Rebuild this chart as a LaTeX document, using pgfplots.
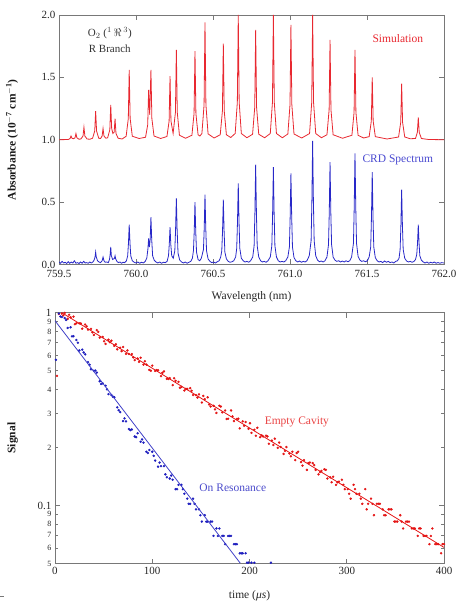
\documentclass[border=0pt]{standalone}
\usepackage{pgfplots}
\pgfplotsset{compat=1.18}
\usepackage{fontspec}
\setmainfont{Liberation Serif}

\definecolor{simred}{RGB}{232,40,48}
\definecolor{crdblue}{RGB}{40,40,200}
\definecolor{framegray}{RGB}{120,120,120}
\definecolor{ecred}{RGB}{228,20,20}
\definecolor{orblue}{RGB}{30,30,190}

\begin{document}
\begin{tikzpicture}
\useasboundingbox (0,0) rectangle (459pt,604pt);
\pgfplotsset{
  every axis/.append style={
    scale only axis,
    axis line style={framegray, line width=0.7pt},
    every tick/.style={framegray, line width=0.6pt},
    major tick length=5pt,
    tick align=inside,
    tick label style={font=\fontsize{11}{13}\selectfont, text=black!85},
    /pgf/number format/assume math mode=true,
    xlabel style={font=\fontsize{11.5}{13}\selectfont, text=black!85},
    ylabel style={font=\fontsize{11.5}{13}\selectfont\bfseries, text=black!90},
  },
}

% ---------------- O2 A-band R branch: simulation vs CRD spectrum ----------------
\begin{axis}[
  at={(59pt,339.5pt)}, anchor=south west,
  width=385pt, height=249.5pt,
  xmin=759.5, xmax=762, ymin=0, ymax=2,
  xtick={759.5,760,760.5,761,761.5,762},
  ytick={0,0.5,1,1.5,2},
  xticklabel style={yshift=-2.5pt, /pgf/number format/.cd, fixed, fixed zerofill, precision=1},
  yticklabel style={/pgf/number format/.cd, fixed, fixed zerofill, precision=1},
  xlabel={Wavelength (nm)},
  ylabel={Absorbance (10\textsuperscript{$-$7} cm\textsuperscript{$-$1})},
  xlabel style={at={(axis description cs:0.5,-0.13)}, anchor=center},
  ylabel style={at={(axis description cs:-0.122,0.5)}, anchor=center},
]
% simulated spectrum, offset by 1.0
\addplot[simred, line width=0.8pt] coordinates {
(759.500,1.000)(759.560,1.002)(759.572,1.010)(759.578,1.030)(759.584,1.012)
(759.595,1.008)(759.604,1.016)(759.610,1.050)(759.616,1.016)(759.630,1.004)
(759.642,1.006)(759.656,1.030)(759.662,1.100)(759.668,1.030)(759.682,1.006)
(759.700,1.004)(759.718,1.012)(759.732,1.070)(759.738,1.230)(759.744,1.070)
(759.758,1.012)(759.770,1.010)(759.780,1.030)(759.786,1.090)(759.792,1.030)
(759.804,1.012)(759.816,1.016)(759.830,1.080)(759.836,1.280)(759.842,1.090)
(759.850,1.050)(759.858,1.060)(759.864,1.170)(759.870,1.050)(759.884,1.012)
(759.910,1.006)(759.936,1.028)(759.950,1.170)(759.956,1.560)(759.962,1.170)
(759.976,1.028)(760.020,1.010)(760.062,1.020)(760.076,1.120)(760.082,1.400)
(760.089,1.200)(760.097,1.560)(760.103,1.170)(760.117,1.030)(760.160,1.010)
(760.201,1.026)(760.215,1.150)(760.221,1.510)(760.227,1.150)(760.241,1.050)
(760.256,1.220)(760.262,1.720)(760.268,1.220)(760.282,1.036)(760.322,1.012)
(760.363,1.036)(760.377,1.210)(760.383,1.710)(760.389,1.210)(760.403,1.040)
(760.415,1.030)(760.428,1.050)(760.442,1.280)(760.448,1.940)(760.454,1.280)
(760.468,1.047)(760.507,1.014)(760.547,1.040)(760.561,1.230)(760.567,1.770)
(760.573,1.230)(760.587,1.040)(760.615,1.018)(760.644,1.050)(760.658,1.300)
(760.664,2.000)(760.670,1.300)(760.684,1.050)(760.720,1.016)(760.757,1.044)
(760.771,1.260)(760.777,1.880)(760.783,1.260)(760.797,1.044)(760.835,1.016)
(760.872,1.050)(760.886,1.300)(760.892,2.000)(760.898,1.300)(760.912,1.050)
(760.950,1.016)(760.986,1.046)(761.000,1.280)(761.006,1.920)(761.012,1.280)
(761.026,1.046)(761.076,1.014)(761.127,1.050)(761.141,1.300)(761.147,2.000)
(761.153,1.300)(761.167,1.050)(761.204,1.016)(761.240,1.040)(761.254,1.240)
(761.260,1.800)(761.266,1.240)(761.280,1.040)(761.341,1.012)(761.402,1.036)
(761.416,1.220)(761.422,1.720)(761.428,1.220)(761.442,1.036)(761.478,1.014)
(761.514,1.025)(761.528,1.150)(761.534,1.500)(761.540,1.150)(761.554,1.025)
(761.630,1.006)(761.705,1.022)(761.719,1.140)(761.725,1.450)(761.731,1.140)
(761.745,1.022)(761.780,1.008)(761.815,1.010)(761.827,1.060)(761.833,1.180)
(761.839,1.060)(761.853,1.010)(761.900,1.002)(762.000,1.000)
};
% measured cavity ring-down spectrum
\addplot[crdblue, line width=0.8pt] coordinates {
(759.50,0.020)(759.51,0.010)(759.52,0.025)(759.53,0.012)(759.54,0.018)
(759.55,0.008)(759.56,0.022)(759.57,0.010)(759.58,0.020)(759.59,0.012)
(759.60,0.030)(759.61,0.010)(759.62,0.015)(759.63,0.008)(759.64,0.020)
(759.65,0.010)(759.66,0.025)(759.67,0.012)(759.68,0.015)(759.69,0.010)
(759.70,0.020)(759.71,0.012)(759.72,0.020)
(759.728,0.035)(759.734,0.060)(759.738,0.100)(759.742,0.060)(759.750,0.030)
(759.760,0.020)(759.770,0.015)(759.780,0.030)(759.786,0.060)(759.792,0.030)
(759.800,0.018)(759.810,0.020)(759.820,0.015)(759.828,0.040)(759.832,0.080)
(759.836,0.140)(759.840,0.070)(759.848,0.040)(759.856,0.045)(759.860,0.050)
(759.864,0.070)(759.868,0.045)(759.876,0.025)(759.886,0.015)(759.896,0.020)
(759.906,0.010)(759.916,0.018)(759.926,0.015)(759.938,0.030)
(759.946,0.070)(759.951,0.170)(759.956,0.320)(759.961,0.170)(759.966,0.070)
(759.976,0.030)(759.988,0.018)(760.000,0.012)(760.012,0.020)(760.024,0.010)
(760.036,0.018)(760.048,0.012)(760.060,0.025)(760.070,0.050)
(760.077,0.120)(760.082,0.210)(760.087,0.140)(760.092,0.200)(760.097,0.380)
(760.102,0.200)(760.108,0.070)(760.118,0.035)(760.130,0.020)(760.142,0.012)
(760.154,0.020)(760.166,0.010)(760.178,0.018)(760.190,0.015)(760.202,0.025)
(760.211,0.070)(760.216,0.160)(760.221,0.300)(760.226,0.160)(760.232,0.070)
(760.242,0.050)(760.252,0.110)(760.257,0.280)(760.262,0.530)(760.267,0.280)
(760.273,0.090)(760.284,0.035)(760.296,0.020)(760.308,0.012)(760.320,0.020)
(760.332,0.010)(760.344,0.018)(760.356,0.025)(760.366,0.050)
(760.373,0.110)(760.378,0.260)(760.383,0.500)(760.388,0.260)(760.393,0.100)
(760.403,0.040)(760.414,0.030)(760.424,0.050)(760.438,0.120)(760.443,0.290)
(760.448,0.560)(760.453,0.290)(760.458,0.110)(760.468,0.045)(760.480,0.025)
(760.492,0.015)(760.504,0.020)(760.516,0.012)(760.528,0.022)(760.540,0.030)
(760.550,0.060)(760.557,0.110)(760.562,0.270)(760.567,0.520)(760.572,0.270)
(760.577,0.100)(760.587,0.045)(760.599,0.025)(760.611,0.018)(760.623,0.022)
(760.635,0.030)(760.647,0.060)(760.654,0.130)(760.659,0.340)(760.664,0.650)
(760.669,0.340)(760.674,0.130)(760.684,0.050)(760.696,0.030)(760.708,0.020)
(760.720,0.025)(760.732,0.018)(760.744,0.030)(760.758,0.060)(760.767,0.150)
(760.772,0.410)(760.777,0.800)(760.782,0.410)(760.787,0.150)(760.797,0.060)
(760.809,0.030)(760.821,0.020)(760.833,0.025)(760.845,0.018)(760.857,0.030)
(760.872,0.060)(760.882,0.150)(760.887,0.400)(760.892,0.780)(760.897,0.400)
(760.902,0.150)(760.912,0.060)(760.924,0.030)(760.936,0.020)(760.948,0.025)
(760.960,0.020)(760.972,0.030)(760.986,0.060)(760.996,0.140)(761.001,0.380)
(761.006,0.730)(761.011,0.380)(761.016,0.140)(761.026,0.055)(761.038,0.030)
(761.050,0.020)(761.062,0.028)(761.074,0.018)(761.086,0.025)(761.098,0.020)
(761.110,0.030)(761.125,0.070)(761.137,0.190)(761.142,0.500)(761.147,0.990)
(761.152,0.500)(761.157,0.190)(761.167,0.070)(761.179,0.035)(761.191,0.022)
(761.203,0.028)(761.215,0.020)(761.227,0.030)(761.240,0.060)(761.250,0.160)
(761.255,0.420)(761.260,0.820)(761.265,0.420)(761.270,0.160)(761.280,0.060)
(761.292,0.035)(761.304,0.025)(761.316,0.030)(761.328,0.020)(761.340,0.028)
(761.352,0.020)(761.364,0.030)(761.376,0.022)(761.388,0.030)(761.400,0.060)
(761.412,0.170)(761.417,0.460)(761.422,0.890)(761.427,0.460)(761.432,0.170)
(761.442,0.065)(761.454,0.035)(761.466,0.025)(761.478,0.030)(761.490,0.022)
(761.502,0.030)(761.514,0.060)(761.524,0.140)(761.529,0.380)(761.534,0.740)
(761.539,0.380)(761.544,0.140)(761.554,0.055)(761.566,0.030)(761.578,0.020)
(761.590,0.025)(761.602,0.015)(761.614,0.028)(761.626,0.018)(761.638,0.025)
(761.650,0.015)(761.662,0.020)(761.674,0.012)(761.686,0.025)(761.698,0.030)
(761.708,0.050)(761.715,0.120)(761.720,0.310)(761.725,0.600)(761.730,0.310)
(761.735,0.120)(761.745,0.050)(761.757,0.028)(761.769,0.020)(761.781,0.025)
(761.793,0.018)(761.805,0.025)(761.815,0.040)(761.823,0.080)(761.828,0.170)
(761.833,0.320)(761.838,0.170)(761.843,0.070)(761.853,0.035)(761.865,0.020)
(761.877,0.012)(761.889,0.020)(761.901,0.010)(761.913,0.018)(761.925,0.012)
(761.937,0.020)(761.949,0.010)(761.961,0.016)(761.973,0.010)(761.985,0.015)
(762.000,0.012)
};
\node[font=\fontsize{11}{13}\selectfont, text=black!80, align=center] at (axis cs:759.83,1.852) {O$_2$ ($^1\,\Re\,^3$)};
\node[font=\fontsize{11}{13}\selectfont, text=black!80] at (axis cs:759.83,1.732) {R Branch};
\node[font=\fontsize{11.5}{13}\selectfont, text=simred] at (axis cs:761.70,1.812) {Simulation};
\node[font=\fontsize{11.5}{13}\selectfont, text=crdblue!85] at (axis cs:761.70,0.836) {CRD Spectrum};
\end{axis}

% ---------------- ring-down decays ----------------
\begin{axis}[
  at={(55pt,40.5pt)}, anchor=south west,
  width=389pt, height=250.8pt,
  ymode=log, xmin=0, xmax=400, ymin=0.05, ymax=1,
  xtick={0,100,200,300,400},
  ytick={0.1,1}, yticklabels={0.1,1},
  yminorticks=false,
  extra y ticks={0.05,0.06,0.07,0.08,0.09,0.2,0.3,0.4,0.5,0.6,0.7,0.8,0.9},
  extra y tick labels={5,6,7,8,9,2,3,4,5,6,7,8,9},
  extra y tick style={major tick length=3pt,
    tick label style={font=\fontsize{8}{9}\selectfont}},
  clip mode=individual,
  xlabel={time (\textit{μs})},
  ylabel={Signal},
  xlabel style={at={(axis description cs:0.5,-0.13)}, anchor=center},
  ylabel style={at={(axis description cs:-0.109,0.5)}, anchor=center},
]
% empty cavity decay
\addplot[only marks, mark=*, mark size=1pt, ecred] coordinates {
(2,0.47)(4,0.985)(7,0.99)(10,0.998)(13,0.929)(16,0.947)(19,0.955)(22,0.881)
(25,0.880)(28,0.826)(31,0.868)(34,0.817)(37,0.824)(40,0.767)(43,0.812)(46,0.742)
(49,0.749)(52,0.689)(55,0.724)(58,0.716)(61,0.673)(64,0.646)(67,0.658)(70,0.664)
(73,0.612)(76,0.611)(79,0.610)(82,0.568)(85,0.579)(88,0.584)(91,0.538)(94,0.538)
(97,0.505)(100,0.531)(103,0.499)(106,0.503)(109,0.469)(112,0.496)(115,0.454)
(118,0.458)(121,0.421)(124,0.443)(127,0.438)(130,0.412)(133,0.395)(136,0.402)
(139,0.406)(142,0.374)(145,0.374)(148,0.377)(151,0.342)(154,0.356)(157,0.364)
(160,0.326)(163,0.329)(166,0.302)(169,0.329)(172,0.304)(175,0.311)(178,0.282)
(181,0.311)(184,0.274)(187,0.281)(190,0.251)(193,0.273)(196,0.271)(199,0.250)
(202,0.238)(205,0.247)(208,0.253)(211,0.226)(214,0.228)(217,0.230)(220,0.209)
(223,0.217)(226,0.222)(229,0.199)(232,0.201)(235,0.185)(238,0.201)(241,0.186)
(244,0.190)(247,0.172)(250,0.190)(253,0.168)(256,0.172)(259,0.153)(262,0.167)
(265,0.166)(268,0.153)(271,0.145)(274,0.151)(277,0.154)(280,0.138)(283,0.140)
(286,0.141)(289,0.128)(292,0.133)(295,0.136)(298,0.1215)(301,0.1215)(304,0.1085)
(307,0.128)(310,0.115)(313,0.115)(316,0.102)(319,0.1215)(322,0.102)(325,0.1085)
(328,0.089)(331,0.102)(334,0.102)(337,0.0955)(340,0.089)(343,0.0955)(346,0.0955)
(349,0.0825)(352,0.0825)(355,0.089)(358,0.076)(361,0.0825)(364,0.0825)(367,0.076)
(370,0.076)(373,0.0695)(376,0.076)(379,0.0695)(382,0.0695)(385,0.063)(388,0.076)
(391,0.063)(394,0.063)(397,0.0565)(400,0.063)
(8.5,0.969)(14.5,0.976)(20.5,0.872)(26.5,0.879)(32.5,0.850)(38.5,0.791)
(44.5,0.796)(50.5,0.711)(56.5,0.703)(62.5,0.686)(68.5,0.632)(74.5,0.637)
(80.5,0.586)(86.5,0.556)(92.5,0.560)(98.5,0.500)(104.5,0.504)(110.5,0.488)
(116.5,0.453)(122.5,0.457)(128.5,0.408)(134.5,0.403)(140.5,0.394)(146.5,0.363)
(152.5,0.370)(158.5,0.334)(164.5,0.315)(170.5,0.326)(176.5,0.281)(182.5,0.290)
(188.5,0.282)(194.5,0.259)(200.5,0.267)(206.5,0.230)(212.5,0.231)(218.5,0.228)
(224.5,0.206)(230.5,0.212)(236.5,0.192)(242.5,0.180)(248.5,0.187)(254.5,0.161)
(260.5,0.166)(266.5,0.162)(272.5,0.149)(278.5,0.153)(284.5,0.132)(290.5,0.132)
(296.5,0.128)(302.5,0.115)(308.5,0.1215)(314.5,0.1085)(320.5,0.0955)(326.5,0.102)
(332.5,0.102)(338.5,0.089)(344.5,0.0955)(350.5,0.0825)(356.5,0.0825)(362.5,0.0825)
(368.5,0.076)(374.5,0.076)(380.5,0.0695)(386.5,0.0695)(392.5,0.063)(398.5,0.063)
};
\addplot[ecred, line width=0.8pt] coordinates {(7,1.0) (400,0.0606)};
% decay on an absorption line
\addplot[only marks, mark=*, mark size=1pt, orblue] coordinates {
(1,0.57)(4,0.99)(7,0.950)(10,0.938)(13,0.834)(16,0.84)(19,0.755)(22,0.722)
(25,0.637)(28,0.643)(31,0.608)(34,0.554)(37,0.509)(40,0.500)(43,0.489)(46,0.441)
(49,0.430)(52,0.418)(55,0.378)(58,0.374)(61,0.364)(64,0.323)(67,0.305)(70,0.274)
(73,0.273)(76,0.249)(79,0.248)(82,0.228)(85,0.237)(88,0.214)(91,0.212)(94,0.190)
(97,0.194)(100,0.190)(103,0.171)(106,0.159)(109,0.160)(112,0.160)(115,0.140)
(118,0.138)(121,0.136)(124,0.1215)(127,0.128)(130,0.128)(133,0.115)(136,0.1085)
(139,0.102)(142,0.1085)(145,0.0955)(148,0.0955)(151,0.0825)(154,0.089)(157,0.0825)
(160,0.0825)(163,0.0695)(166,0.076)(169,0.076)(172,0.0695)(175,0.063)(178,0.0695)
(181,0.0695)(184,0.063)(187,0.063)(190,0.0565)(193,0.0565)(196,0.0565)
(199,0.0505)(202,0.0505)(205,0.0505)(222,0.0505)
(5.5,0.956)(11.5,0.917)(17.5,0.754)(23.5,0.699)(29.5,0.622)(35.5,0.537)
(41.5,0.501)(47.5,0.427)(53.5,0.400)(59.5,0.367)(65.5,0.312)(71.5,0.283)
(77.5,0.246)(83.5,0.226)(89.5,0.220)(95.5,0.187)(101.5,0.181)(107.5,0.167)
(113.5,0.145)(119.5,0.143)(125.5,0.1215)(131.5,0.1215)(137.5,0.102)(143.5,0.102)
(149.5,0.089)(155.5,0.0825)(161.5,0.0825)(167.5,0.0695)(173.5,0.0695)(179.5,0.0695)
(185.5,0.063)(191.5,0.0565)(197.5,0.0505)
};
\addplot[orblue!85, line width=0.8pt] coordinates {(0,0.909) (190.5,0.0502)};
\node[font=\fontsize{11.5}{13}\selectfont, text=ecred!80] at (axis cs:248.7,0.2705) {Empty Cavity};
\node[font=\fontsize{11.5}{13}\selectfont, text=orblue!80] at (axis cs:182.8,0.123) {On Resonance};
\end{axis}
\draw[framegray, line width=0.6pt] (0pt,7.3pt) -- (4pt,7.3pt);
\end{tikzpicture}
\end{document}
